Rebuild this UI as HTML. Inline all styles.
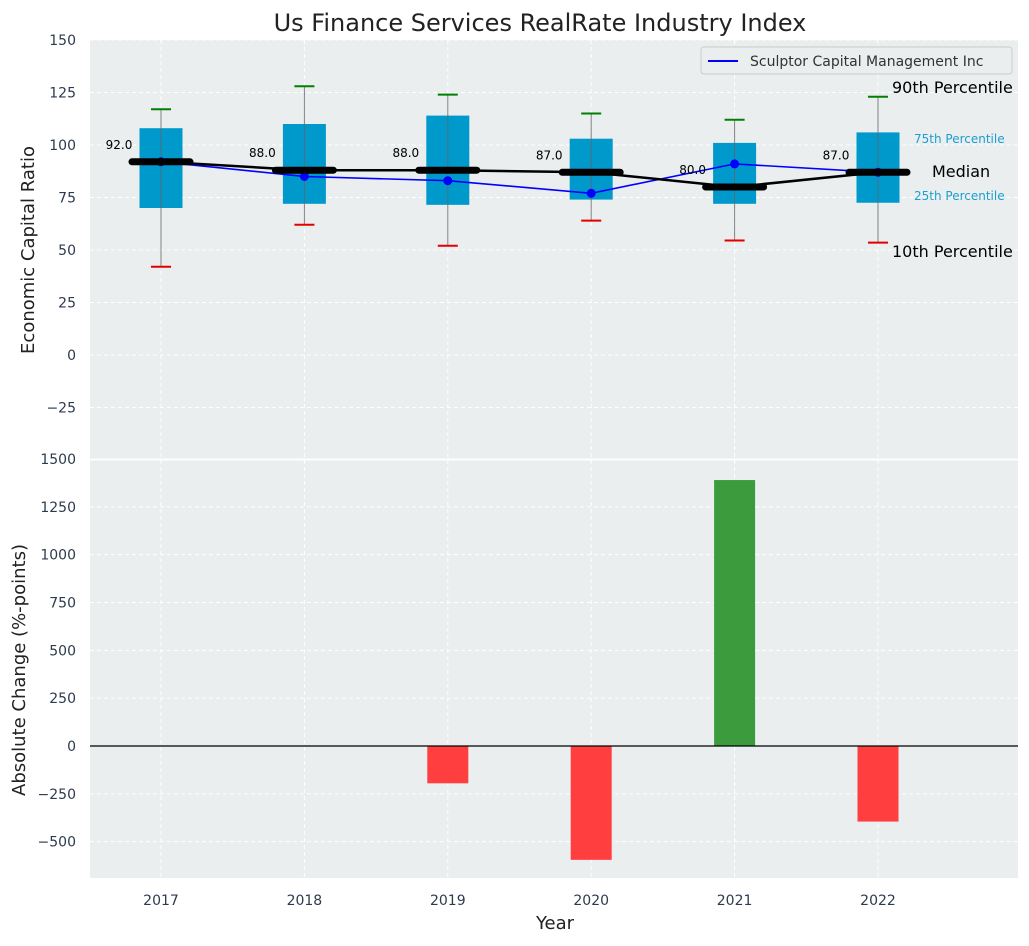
<!DOCTYPE html>
<html><head><meta charset="utf-8"><style>
body{margin:0;background:#fff;font-family:"DejaVu Sans","Liberation Sans",sans-serif;}
svg text{font-family:"DejaVu Sans","Liberation Sans",sans-serif;}
</style></head><body>
<svg id="chart" width="1029" height="942" xmlns="http://www.w3.org/2000/svg">
<text x="540" y="31" font-size="24" text-anchor="middle" fill="#222">Us Finance Services RealRate Industry Index</text>
<g id="topg"></g><g id="botg"></g>
</svg>
<script>
const years=[2017,2018,2019,2020,2021,2022];
const q1=[70,72,71.5,74,72,72.5];
const q3=[108,110,114,103,101,106];
const p10=[42,62,52,64,54.5,53.5];
const p90=[117,128,124,115,112,123];
const medians=[92,88,88,87,80,87];
const sculptor=[92,85,83,77,91,87];
const changes=[0,0,-195,-595,1390,-395];
const topTicks=[150,125,100,75,50,25,0,-25];
const botTicks=[1500,1250,1000,750,500,250,0,-250,-500];
const NS="http://www.w3.org/2000/svg";
const svgEl=document.getElementById('chart');
function el(tag,attrs,parent,txt){const e=document.createElementNS(NS,tag);for(const k in attrs)e.setAttribute(k,attrs[k]);if(txt!==undefined)e.textContent=txt;(parent||svgEl).appendChild(e);return e;}
const L=90,R=1018;
const X=v=>161+(v-2017)*143.4;
const Yt=v=>355-v*2.1;
const Yb=v=>746-v*0.19133;
const topG=document.getElementById('topg'),botG=document.getElementById('botg');
let r=el('rect',{x:L,y:40,width:R-L,height:419,fill:'#eaeeee'},topG);


r=el('rect',{x:L,y:460,width:R-L,height:418,fill:'#eaeeee'},botG);


topTicks.forEach(t=>{const y=Yt(t);
 el('line',{x1:L,x2:R,y1:y,y2:y,stroke:'#fff','stroke-dasharray':'4,3','stroke-width':1},topG);
 const tx=el('text',{x:76,y:y+5,'font-size':14,'text-anchor':'end',fill:'#2d3b4e'},topG,t<0?'\u2212'+(-t):t);
 
 });
botTicks.forEach(t=>{const y=Yb(t);
 el('line',{x1:L,x2:R,y1:y,y2:y,stroke:'#fff','stroke-dasharray':'4,3','stroke-width':1},botG);
 const tx=el('text',{x:76,y:y+5,'font-size':14,'text-anchor':'end',fill:'#2d3b4e'},botG,t<0?'\u2212'+(-t):t);
 
 });
years.forEach(yr=>{const x=X(yr);
 el('line',{x1:x,x2:x,y1:40,y2:459,stroke:'#fff','stroke-dasharray':'4,3'},topG);
 el('line',{x1:x,x2:x,y1:460,y2:878,stroke:'#fff','stroke-dasharray':'4,3'},botG);
 const tx=el('text',{x:x,y:905,'font-size':14,'text-anchor':'middle',fill:'#2d3b4e'},botG,yr);
 
 });
el('line',{x1:L,x2:R,y1:459.5,y2:459.5,stroke:'#fff','stroke-width':2});
years.forEach((yr,i)=>{const x=X(yr);
 const g=el('g',{},topG);
 
 
 el('rect',{x:x-21.5,y:Yt(q3[i]),width:43,height:Yt(q1[i])-Yt(q3[i]),fill:'#0099cc'},g);
 el('line',{x1:x,x2:x,y1:Yt(p90[i]),y2:Yt(p10[i]),stroke:'#666','stroke-width':1,opacity:0.8},g);
 el('line',{x1:x-10,x2:x+10,y1:Yt(p90[i]),y2:Yt(p90[i]),stroke:'#008000','stroke-width':2},g);
 el('line',{x1:x-10,x2:x+10,y1:Yt(p10[i]),y2:Yt(p10[i]),stroke:'#e00000','stroke-width':2},g);
});
let pts=years.map((yr,i)=>X(yr)+','+Yt(sculptor[i])).join(' ');
let pl=el('polyline',{points:pts,fill:'none',stroke:'#0000ff','stroke-width':1.6},topG);


years.forEach((yr,i)=>{const c=el('circle',{cx:X(yr),cy:Yt(sculptor[i]),r:4.5,fill:'#0000ff'},topG);
 
 });
pts=years.map((yr,i)=>X(yr)+','+Yt(medians[i])).join(' ');
pl=el('polyline',{points:pts,fill:'none',stroke:'#000','stroke-width':2.5},topG);


years.forEach((yr,i)=>{const x=X(yr),y=Yt(medians[i]);
 const m=el('line',{x1:x-29,x2:x+29,y1:y,y2:y,stroke:'#000','stroke-width':7,'stroke-linecap':'round'},topG);
 
 
 const t=el('text',{x:x-42,y:y-13,'font-size':12,'text-anchor':'middle',fill:'#000'},topG,medians[i].toFixed(1));
 
 });
const ann=[['90th Percentile',892,93,16,'#000'],['75th Percentile',914,143,12,'#1a9fd0'],['Median',932,177,16,'#000'],['25th Percentile',914,200,12,'#1a9fd0'],['10th Percentile',892,257,16,'#000']];
ann.forEach(a=>{const t=el('text',{x:a[1],y:a[2],'font-size':a[3],fill:a[4]},topG,a[0]);
 
 });
const lg=el('g',{},topG);


el('rect',{x:701,y:47,width:311,height:27,rx:3,fill:'#eaeeee',stroke:'#ccc'},lg);
el('line',{x1:708,x2:738,y1:61,y2:61,stroke:'#0000ff','stroke-width':2},lg);
el('text',{x:750,y:66,'font-size':14,fill:'#333'},lg,'Sculptor Capital Management Inc');
years.forEach((yr,i)=>{const v=changes[i];if(v===0)return;const x=X(yr);
 const y0=Yb(0),y1=Yb(v);
 const b=el('rect',{x:x-20.5,y:Math.min(y0,y1),width:41,height:Math.abs(y1-y0),fill:v>0?'#3c9b3c':'#ff3f3f'},botG);
 
 });
el('line',{x1:L,x2:R,y1:Yb(0),y2:Yb(0),stroke:'#000','stroke-width':1.2},botG);
let t=el('text',{x:0,y:0,'font-size':18,'text-anchor':'middle',fill:'#222',transform:'translate(34,250) rotate(-90)'},svgEl,'Economic Capital Ratio');


t=el('text',{x:0,y:0,'font-size':18,'text-anchor':'middle',fill:'#222',transform:'translate(25,670) rotate(-90)'},svgEl,'Absolute Change (%-points)');


t=el('text',{x:555,y:929,'font-size':18,'text-anchor':'middle',fill:'#222'},svgEl,'Year');


</script>
</body></html>
